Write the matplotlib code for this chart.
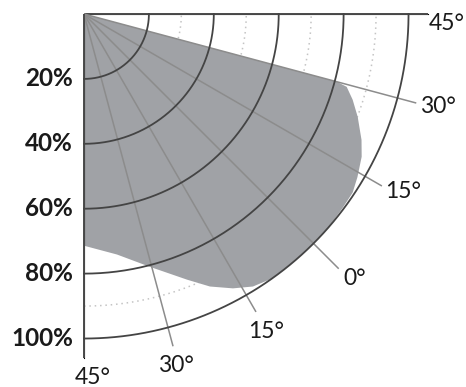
import numpy as np
import matplotlib
matplotlib.use("Agg")
import matplotlib.pyplot as plt

# ---- data ----
ring_values = [20, 40, 60, 80, 100]
ring_labels = ["20%", "40%", "60%", "80%", "100%"]
dotted_rings = [30, 50, 70, 90]
spoke_angles = [45, 30, 15, 0, -15, -30, -45]
spoke_labels = ["45°", "30°", "15°", "0°", "15°", "30°", "45°"]

# beam outline (angle in degrees, relative intensity in %)
outline_theta = [30, 30, 29.5, 27.3, 24.4, 20.6, 17.8, 14.2, 11.4, 8.3, 4.1,
                 -0.5, -5.4, -9.6, -13.2, -16.5, -20.2, -23.8, -30.4, -37.2,
                 -45, -45]
outline_r = [0, 80.7, 84.0, 86.9, 90.1, 93.9, 96.2, 98.1, 99.4, 99.6, 100,
             100, 100, 100, 98.8, 96.2, 92.5, 87.8, 80.5, 74.8,
             71.4, 0]

RMAX = 106

W, H = 466, 387
fig = plt.figure(figsize=(W / 100, H / 100), dpi=100)
ox, oy, size = 84, 14, 344
ax = fig.add_axes([ox / W, 1 - (oy + size) / H, size / W, size / H],
                  projection="polar")
ax.set_theta_zero_location("SE")
ax.set_theta_direction(1)
ax.set_thetamin(-45)
ax.set_thetamax(45)
ax.set_rlim(0, RMAX)
ax.grid(False)
ax.set_xticks([])
ax.set_yticks([])
for sp in ax.spines.values():
    sp.set_visible(False)
ax.patch.set_alpha(0)

arc = np.deg2rad(np.linspace(-45, 45, 200))

# dotted light rings
for r in dotted_rings:
    ax.plot(arc, np.full_like(arc, r), color="#c4c4c4", lw=1.1,
            ls=(0, (1, 2.5)), zorder=1, clip_on=False)

# filled beam
ax.fill(np.deg2rad(outline_theta), outline_r, color="#a0a2a6", lw=0, zorder=2)

# spokes
for a in spoke_angles:
    rend = 111 if a == 0 else RMAX
    edge = a in (45, -45)
    ax.plot([np.deg2rad(a)] * 2, [0, rend],
            color="#4a4a4a" if edge else "#8c8c8c",
            lw=1.4 if edge else 1.1, zorder=3, clip_on=False,
            solid_capstyle="butt")

# solid rings
for r in ring_values:
    ax.plot(arc, np.full_like(arc, r), color="#444444", lw=1.3, zorder=4,
            clip_on=False)

# radial labels
pt = 72 / 100.0
for r, lab in zip(ring_values, ring_labels):
    ax.annotate(lab, xy=(np.deg2rad(-45), r), xytext=(-11 * pt, 0),
                textcoords="offset points", ha="right", va="center",
                fontsize=17.5, fontweight="bold", family="Lato",
                color="#1a1a1a", annotation_clip=False)

# angle labels (offsets in pixels)
offsets = {
    0: ((1, -9), "left", "center"),
    1: ((4, -3), "left", "center"),
    2: ((3, -5), "left", "center"),
    3: ((5, -10), "left", "center"),
    4: ((10, -9), "center", "top"),
    5: ((3, -9), "center", "top"),
    6: ((9, -9), "center", "top"),
}
for i, (a, lab) in enumerate(zip(spoke_angles, spoke_labels)):
    (dx, dy), ha, va = offsets[i]
    rend = 111 if a == 0 else RMAX
    ax.annotate(lab, xy=(np.deg2rad(a), rend), xytext=(dx * pt, dy * pt),
                textcoords="offset points", ha=ha, va=va, fontsize=16.5,
                family="Lato", color="#1a1a1a", annotation_clip=False)

fig.savefig("out.png", dpi=100)
